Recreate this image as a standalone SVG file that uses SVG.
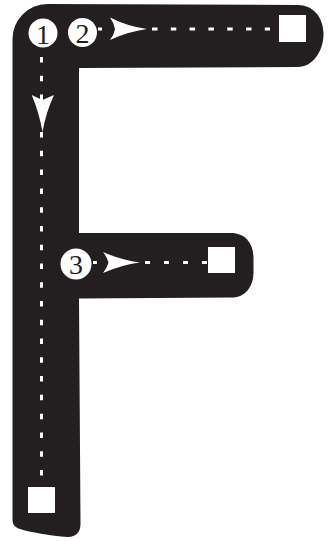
<svg xmlns="http://www.w3.org/2000/svg" width="331" height="541" viewBox="0 0 331 541">
<style>
.dash{stroke:#ffffff;stroke-width:3;fill:none}
.num{font-family:"Liberation Serif","Times New Roman",serif;font-size:28px;fill:#231f20;text-anchor:middle}
.circ{fill:#ffffff}
.sq{fill:#ffffff}
.head{fill:#ffffff}
</style>
<g id="letter-F">
<path fill="#231f20" d="M12.5,39 A35,35 0 0 1 47,4 L298,5 C312,5 323.5,16 323.5,34 C323.5,52 312,67 298,67 L79,68 L79,233 L231,233 C245,233 253.5,243 253.5,258 L253.5,272 C253.5,287 245,297.5 232,297.5 L79,298.5 L80.5,524 C80.5,532 76,537 68,537 C50,536 30,532 20,529 C14,527 12.5,524 12.5,519 Z"/>
</g>
<g id="connectors">
<line class="dash" x1="41.5" y1="57" x2="41.5" y2="476" stroke-dasharray="5.5 13.27"/>
<line class="dash" x1="152" y1="29" x2="270" y2="29" stroke-dasharray="5.5 13.3"/>
<line class="dash" x1="98" y1="29" x2="102" y2="29"/>
<line class="dash" x1="145" y1="262.5" x2="208" y2="262.5" stroke-dasharray="5 14"/>
<line class="dash" x1="93" y1="262.5" x2="97" y2="262.5"/>
<path class="head" d="M31.7,95 Q38,98 42.5,100 Q47,98 54,95 Q46,112 42.5,132 Q39,112 31.7,95 Z"/>
<path class="head" d="M110,17.5 Q114,23 115,29 Q114,35 110,40 Q128,31.5 147,29 Q128,26.5 110,17.5 Z"/>
<path class="head" d="M103,252 Q107,257 108.5,262.5 Q107,268 103,273 Q121,265 140,262.5 Q121,260 103,252 Z"/>
</g>
<g id="step1">
<circle class="circ" cx="43" cy="33" r="14.5"/>
<text class="num" x="43" y="43.5">1</text>
</g>
<g id="step2">
<circle class="circ" cx="82.5" cy="32.5" r="14.5"/>
<text class="num" x="82.5" y="42.5">2</text>
</g>
<g id="step3">
<circle class="circ" cx="76" cy="264" r="15.5"/>
<text class="num" x="76" y="274">3</text>
</g>
<g id="end1">
<rect class="sq" x="28" y="487" width="27" height="26"/>
</g>
<g id="end2">
<rect class="sq" x="279" y="15" width="27" height="27"/>
</g>
<g id="end3">
<rect class="sq" x="208" y="247" width="27" height="26"/>
</g>
</svg>
